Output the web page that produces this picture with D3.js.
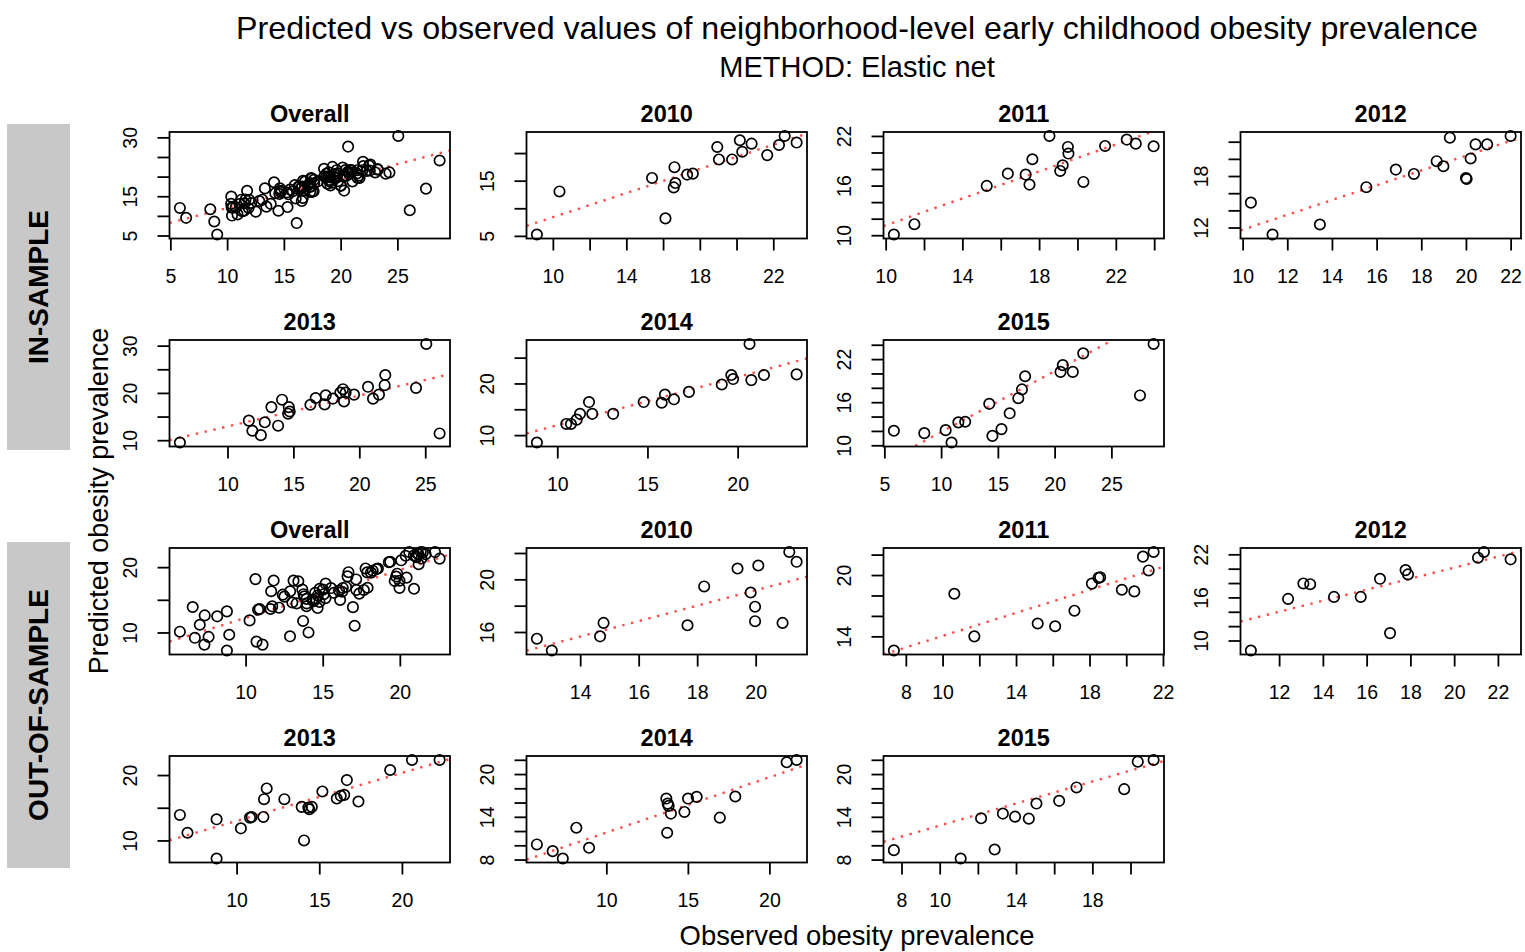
<!DOCTYPE html>
<html>
<head>
<meta charset="utf-8">
<script src="https://cdn.jsdelivr.net/npm/d3@7"></script>
<style>
body { margin: 0; background: #fff; }
svg { font-family: "Liberation Sans", Arial, Helvetica, sans-serif; }
</style>
</head>
<body>
<svg id="chart" width="1525" height="952"></svg>
<script>
// [observed, predicted] per neighborhood
const in2010 = [[9.13,5.24],[10.36,13.05],[15.4,15.49],[16.13,8.17],[16.62,17.44],[16.67,14.57],[16.58,13.78],[17.31,16.1],[17.62,16.28],[18.95,21.1],[19.04,18.84],[19.76,18.84],[20.18,22.32],[20.31,20.24],[20.82,21.7],[21.67,19.63],[22.31,21.46],[22.62,23.1],[23.27,21.9]];
const in2011 = [[10.43,10.08],[11.5,11.33],[15.27,15.96],[16.37,17.45],[17.3,17.33],[17.5,16.12],[17.65,19.18],[18.54,22.0],[19.1,17.77],[19.23,18.46],[19.5,20.67],[19.53,19.87],[20.31,16.44],[21.44,20.79],[22.57,21.56],[23.04,21.07],[23.97,20.75]];
const in2012 = [[10.37,14.9],[11.34,11.18],[13.46,12.35],[15.54,16.7],[16.86,18.75],[17.67,18.24],[18.69,19.73],[18.99,19.14],[19.28,22.47],[20.0,17.76],[20.03,17.65],[20.21,20.04],[20.43,21.69],[20.95,21.69],[22.0,22.67]];
const in2013 = [[6.39,9.5],[11.62,14.14],[11.89,12.0],[12.53,11.07],[12.83,13.79],[13.33,17.0],[13.84,13.07],[14.14,18.57],[14.65,17.0],[14.72,16.07],[14.6,15.6],[16.29,17.5],[16.69,18.93],[17.37,17.57],[17.45,19.5],[18.0,18.8],[18.56,20.07],[18.76,20.79],[18.84,18.21],[18.96,20.07],[19.6,19.64],[20.66,21.29],[21.04,18.79],[21.49,19.64],[21.92,21.64],[21.97,23.79],[24.3,21.07],[25.08,30.36],[26.09,11.43]];
const in2014 = [[8.87,8.56],[10.5,12.16],[10.76,12.16],[11.08,13.0],[11.26,14.12],[11.76,16.4],[11.94,14.12],[13.1,14.12],[14.79,16.4],[15.79,16.27],[15.97,17.84],[16.47,16.93],[17.3,18.37],[19.12,19.8],[19.65,21.63],[19.75,20.85],[20.76,20.65],[20.66,27.65],[21.46,21.63],[23.27,21.76]];
const in2015 = [[5.84,12.02],[8.52,11.69],[10.4,12.11],[10.92,10.38],[11.52,13.19],[12.12,13.28],[14.24,15.77],[14.52,11.31],[15.32,12.25],[16.04,14.45],[16.8,16.56],[17.12,17.78],[17.4,19.61],[20.52,20.22],[20.72,21.16],[21.6,20.22],[22.52,22.8],[27.52,16.94],[28.72,24.11]];

const out2010 = [[12.52,15.49],[13.03,14.59],[14.68,15.67],[14.8,16.69],[17.67,16.51],[18.24,19.46],[19.38,20.82],[19.83,19.0],[19.98,17.92],[19.98,16.82],[20.09,21.05],[20.92,16.69],[21.15,22.08],[21.4,21.33]];
const out2011 = [[7.35,12.61],[10.64,18.17],[11.73,14.0],[15.18,15.26],[16.13,14.99],[17.18,16.51],[18.13,19.16],[18.49,19.72],[18.58,19.79],[19.76,18.56],[20.44,18.4],[20.91,21.8],[21.22,20.45],[21.49,22.26]];
const out2012 = [[10.71,8.6],[12.41,15.79],[13.11,17.94],[13.42,17.84],[14.51,16.07],[15.73,16.07],[16.61,18.59],[17.07,11.03],[17.78,19.8],[17.89,19.2],[21.09,21.53],[21.36,22.33],[22.58,21.3]];
const out2013 = [[6.57,13.9],[7.03,11.18],[8.79,13.23],[8.79,7.23],[10.26,11.85],[10.81,13.49],[10.91,13.59],[11.62,13.59],[11.66,16.31],[11.82,17.95],[12.89,16.31],[13.94,15.13],[14.08,10.0],[14.34,15.03],[14.55,15.13],[14.4,14.77],[15.19,17.49],[16.06,16.41],[16.3,16.82],[16.51,16.97],[16.67,19.23],[17.37,15.95],[19.29,20.77],[20.61,22.31],[22.28,22.31]];
const out2014 = [[5.74,10.12],[6.71,9.18],[7.33,8.14],[8.16,12.47],[8.94,9.65],[13.68,16.56],[13.76,15.86],[13.82,15.53],[13.96,14.45],[13.73,11.76],[14.79,14.68],[15.01,16.56],[15.54,16.8],[16.96,13.88],[17.91,16.85],[21.06,21.65],[21.67,21.98]];
const out2015 = [[7.6,9.32],[11.1,8.14],[12.17,13.79],[12.88,9.41],[13.31,14.45],[13.95,14.02],[14.67,13.74],[15.07,15.86],[16.26,16.24],[17.17,18.12],[19.67,17.88],[20.38,21.74],[21.21,21.98]];

// overall = all years pooled
const inOverall = [].concat(in2010, in2011, in2012, in2013, in2014, in2015);
const outOverall = [].concat(out2010, out2011, out2012, out2013, out2014, out2015);

const panelNames = ["Overall", "2010", "2011", "2012", "2013", "2014", "2015"];

// fitted line [intercept, slope]
const inFits = [[4.53,0.746],[-2.56,1.094],[3.03,0.8155],[3.13,0.862],[6.34,0.656],[2.58,0.933],[3.36,0.848]];
const outFits = [[4.89,0.734],[7.45,0.586],[8.41,0.563],[4.8,0.767],[5.66,0.733],[4.02,0.7765],[5.05,0.772]];

const inXTicks = [[5,10,15,20,25],[10,12,14,16,18,20,22],[10,12,14,16,18,20,22,24],[10,12,14,16,18,20,22],[10,15,20,25],[10,15,20],[5,10,15,20,25]];
const inXLabels = [[5,10,15,20,25],[10,14,18,22],[10,14,18,22],[10,12,14,16,18,20,22],[10,15,20,25],[10,15,20],[5,10,15,20,25]];
const inYTicks = [[5,10,15,20,25,30],[5,10,15,20],[10,12,14,16,18,20,22],[12,14,16,18,20,22],[10,15,20,25,30],[10,15,20,25],[10,12,14,16,18,20,22,24]];
const inYLabels = [[5,15,30],[5,15],[10,16,22],[12,18],[10,20,30],[10,20],[10,16,22]];

const outXTicks = [[10,15,20],[14,16,18,20],[8,10,12,14,16,18,20,22],[12,14,16,18,20,22],[10,15,20],[10,15,20],[8,10,12,14,16,18,20]];
const outXLabels = [[10,15,20],[14,16,18,20],[8,10,14,18,22],[12,14,16,18,20,22],[10,15,20],[10,15,20],[8,10,14,18]];
const outYTicks = [[10,15,20],[16,18,20,22],[14,16,18,20,22],[10,12,14,16,18,20,22],[10,15,20],[8,10,12,14,16,18,20,22],[8,10,12,14,16,18,20,22]];
const outYLabels = [[10,20],[16,20],[14,20],[10,16,22],[10,20],[8,14,20],[8,14,20]];

const svg = d3.select("#chart");
const plotW = 280.5, plotH = 106.5;
const colX = j => 169.5 + j * 357;
const rowY = i => 132 + i * 208;
const slots = [[0,0],[0,1],[0,2],[0,3],[1,0],[1,1],[1,2]];

const pad = e => { const r = e[1] - e[0]; return [e[0] - 0.04 * r, e[1] + 0.04 * r]; };

function drawPanel(row, col, title, pts, fit, xt, xl, yt, yl, id) {
  const g = svg.append("g").attr("transform", `translate(${colX(col)},${rowY(row)})`);
  const x = d3.scaleLinear().domain(pad(d3.extent(pts, d => d[0]))).range([0, plotW]);
  const y = d3.scaleLinear().domain(pad(d3.extent(pts, d => d[1]))).range([plotH, 0]);

  g.append("clipPath").attr("id", id)
    .append("rect").attr("width", plotW).attr("height", plotH);

  const xd = x.domain();
  g.append("line")
    .attr("clip-path", `url(#${id})`)
    .attr("x1", x(xd[0])).attr("y1", y(fit[0] + fit[1] * xd[0]))
    .attr("x2", x(xd[1])).attr("y2", y(fit[0] + fit[1] * xd[1]))
    .attr("stroke", "#ff4a4a")
    .attr("stroke-width", 2.4)
    .attr("stroke-dasharray", "2.4 6.6");

  g.append("g").selectAll("circle")
    .data(pts)
    .join("circle")
    .attr("cx", d => x(d[0]))
    .attr("cy", d => y(d[1]))
    .attr("r", 5.2)
    .attr("fill", "none")
    .attr("stroke", "#000")
    .attr("stroke-width", 1.7);

  g.append("rect")
    .attr("width", plotW).attr("height", plotH)
    .attr("fill", "none").attr("stroke", "#000").attr("stroke-width", 1.8);

  // axes
  const xAxis = g.append("g").attr("transform", `translate(0,${plotH})`)
    .call(d3.axisBottom(x).tickValues(xt).tickSize(12).tickPadding(19)
      .tickFormat(v => xl.includes(v) ? v : ""));
  const yAxis = g.append("g")
    .call(d3.axisLeft(y).tickValues(yt).tickSize(12)
      .tickFormat(v => yl.includes(v) ? v : ""));
  [xAxis, yAxis].forEach(a => {
    a.select(".domain").remove();
    a.selectAll("line").attr("stroke-width", 1.8);
    a.selectAll("text").attr("font-size", 19.5).attr("fill", "#000")
      .attr("font-family", "Liberation Sans, Arial, sans-serif");
  });
  yAxis.selectAll("text")
    .attr("x", null).attr("dy", null)
    .attr("text-anchor", "middle")
    .attr("transform", "translate(-33,0) rotate(-90)");

  g.append("text")
    .attr("x", plotW / 2).attr("y", -10)
    .attr("text-anchor", "middle")
    .attr("font-size", 23.5).attr("font-weight", "bold")
    .text(title);
}

const inSets = [inOverall, in2010, in2011, in2012, in2013, in2014, in2015];
const outSets = [outOverall, out2010, out2011, out2012, out2013, out2014, out2015];

panelNames.forEach((name, k) => {
  const [r, c] = slots[k];
  drawPanel(r, c, name, inSets[k], inFits[k], inXTicks[k], inXLabels[k], inYTicks[k], inYLabels[k], "cin" + k);
  drawPanel(r + 2, c, name, outSets[k], outFits[k], outXTicks[k], outXLabels[k], outYTicks[k], outYLabels[k], "cout" + k);
});

// side bands
const bands = [["IN-SAMPLE", 124, 326], ["OUT-OF-SAMPLE", 542, 326]];
bands.forEach(([label, top, h]) => {
  svg.append("rect").attr("x", 7).attr("y", top).attr("width", 63).attr("height", h)
    .attr("fill", "#c8c8c8");
  svg.append("text")
    .attr("transform", `translate(48,${top + h / 2}) rotate(-90)`)
    .attr("text-anchor", "middle")
    .attr("font-size", 28).attr("font-weight", "bold")
    .text(label);
});

svg.append("text").attr("x", 857).attr("y", 39).attr("text-anchor", "middle")
  .attr("font-size", 32.2)
  .text("Predicted vs observed values of neighborhood-level early childhood obesity prevalence");
svg.append("text").attr("x", 857).attr("y", 77).attr("text-anchor", "middle")
  .attr("font-size", 29)
  .text("METHOD: Elastic net");
svg.append("text").attr("x", 857).attr("y", 945).attr("text-anchor", "middle")
  .attr("font-size", 27.4)
  .text("Observed obesity prevalence");
svg.append("text").attr("transform", "translate(108,501) rotate(-90)")
  .attr("text-anchor", "middle")
  .attr("font-size", 27)
  .text("Predicted obesity prevalence");
</script>
</body>
</html>
